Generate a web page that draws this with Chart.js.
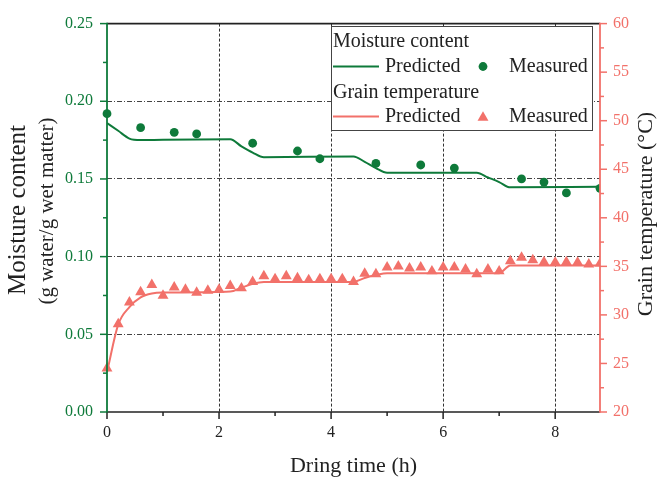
<!DOCTYPE html>
<html><head><meta charset="utf-8">
<script src="https://cdn.jsdelivr.net/npm/chart.js@4"></script>
<style>html,body{margin:0;padding:0;background:#fff}canvas{display:block}</style>
</head><body>
<canvas id="c" width="658" height="483"></canvas>
<script>
// ---- data ----
const moistPredTime = [0, 0.2, 0.4, 0.6, 1.0, 2.2, 2.4, 2.6, 2.8, 4.4, 4.6, 4.8, 5.0, 6.6, 6.8, 7.0, 7.2, 8.8];
const moistPred     = [0.186, 0.181, 0.176, 0.175, 0.1752, 0.1755, 0.171, 0.167, 0.164, 0.1645, 0.161, 0.157, 0.154, 0.154, 0.151, 0.148, 0.1446, 0.145];
const moistMeasTime = [0, 0.6, 1.2, 1.6, 2.6, 3.4, 3.8, 4.8, 5.6, 6.2, 7.4, 7.8, 8.2, 8.8];
const moistMeas     = [0.192, 0.183, 0.180, 0.179, 0.173, 0.168, 0.163, 0.160, 0.159, 0.157, 0.150, 0.148, 0.141, 0.144];
const tempPredTime  = [0, 0.2, 0.4, 0.6, 0.8, 1.0, 2.2, 2.4, 2.6, 2.8, 4.4, 4.6, 4.8, 5.0, 7.0, 7.2, 8.8];
const tempPred      = [24.1, 29.0, 30.8, 31.8, 32.2, 32.3, 32.4, 32.8, 33.2, 33.4, 33.4, 33.8, 34.1, 34.3, 34.3, 35.1, 35.1];
const tempMeasTime  = [0, 0.2, 0.4, 0.6, 0.8, 1.0, 1.2, 1.4, 1.6, 1.8, 2.0, 2.2, 2.4, 2.6, 2.8, 3.0, 3.2, 3.4, 3.6, 3.8, 4.0, 4.2, 4.4, 4.6, 4.8, 5.0, 5.2, 5.4, 5.6, 5.8, 6.0, 6.2, 6.4, 6.6, 6.8, 7.0, 7.2, 7.4, 7.6, 7.8, 8.0, 8.2, 8.4, 8.6, 8.8];
const tempMeas      = [24.5, 29.05, 31.3, 32.35, 33.1, 32.0, 32.85, 32.6, 32.3, 32.5, 32.6, 33.0, 32.75, 33.4, 34.0, 33.7, 34.0, 33.8, 33.6, 33.7, 33.7, 33.7, 33.4, 34.25, 34.2, 34.9, 35.0, 34.8, 34.9, 34.5, 34.9, 34.9, 34.7, 34.2, 34.7, 34.5, 35.55, 35.9, 35.65, 35.45, 35.4, 35.45, 35.4, 35.2, 35.3];
const xTicksMajor = [0, 2, 4, 6, 8];
const xTicksMinor = [1, 3, 5, 7];
const xTitle = 'Dring time (h)';
const yTitle = ['Moisture content', '(g water/g wet matter)'];
const y1Title = 'Grain temperature (°C)';
const legendGroups = ['Moisture content', 'Grain temperature'];
const legendItems = ['Predicted', 'Measured'];

// ---- style ----
const GREEN = '#0e7a3a';
const RED = '#f2716a';
const FONT = '"Liberation Serif", "Times New Roman", serif';
const TRI_R = 6.3;
const DOT_R = 4.4;
const pts = (xs, ys) => xs.map((x, i) => ({x, y: ys[i]}));

const decor = {
  id: 'decor',
  afterDraw(chart) {
    const {ctx, chartArea: a, scales} = chart;
    const xs = scales.x, ys = scales.y, y1 = scales.y1;
    ctx.save();
    const line = (x1, y1_, x2, y2, c, w) => {
      ctx.beginPath(); ctx.strokeStyle = c; ctx.lineWidth = w; ctx.setLineDash([]);
      ctx.moveTo(x1, y1_); ctx.lineTo(x2, y2); ctx.stroke();
    };
    // ticks
    for (let i = 0; i <= 10; i++) {
      const v = i * 0.025;
      const p = ys.getPixelForValue(v);
      line(a.left - (i % 2 === 0 ? 7 : 4), p, a.left, p, GREEN, 1.5);
    }
    for (let i = 0; i <= 16; i++) {
      const v = 20 + i * 2.5;
      const p = y1.getPixelForValue(v);
      line(a.right, p, a.right + (i % 2 === 0 ? 7 : 4), p, RED, 1.5);
    }
    xTicksMajor.forEach(v => { const p = xs.getPixelForValue(v); line(p, a.bottom, p, a.bottom + 7, '#222', 1.5); });
    xTicksMinor.forEach(v => { const p = xs.getPixelForValue(v); line(p, a.bottom, p, a.bottom + 4, '#222', 1.5); });
    // frame
    line(a.left, a.top, a.right, a.top, '#222', 1.6);
    line(a.left, a.bottom, a.right, a.bottom, '#222', 1.6);
    line(a.left, a.top - 0.8, a.left, a.bottom + 0.8, GREEN, 1.8);
    line(a.right, a.top - 0.8, a.right, a.bottom + 0.8, RED, 1.8);
    // titles
    ctx.fillStyle = '#222';
    ctx.textAlign = 'center'; ctx.textBaseline = 'middle';
    ctx.font = '22px ' + FONT;
    ctx.fillText(xTitle, (a.left + a.right) / 2, 466);
    ctx.save(); ctx.translate(646, 214); ctx.rotate(-Math.PI / 2); ctx.fillText(y1Title, 0, 0); ctx.restore();
    ctx.font = '25px ' + FONT;
    ctx.save(); ctx.translate(18, 210); ctx.rotate(-Math.PI / 2); ctx.fillText(yTitle[0], 0, 0); ctx.restore();
    ctx.font = '21px ' + FONT;
    ctx.save(); ctx.translate(47, 211); ctx.rotate(-Math.PI / 2); ctx.fillText(yTitle[1], 0, 0); ctx.restore();
    // legend
    const bx = 331, by = 26, bw = 261, bh = 104;
    ctx.fillStyle = '#fff'; ctx.fillRect(bx, by, bw, bh);
    ctx.strokeStyle = '#444'; ctx.lineWidth = 1; ctx.strokeRect(bx + 0.5, by + 0.5, bw, bh);
    ctx.font = '20px ' + FONT; ctx.textAlign = 'left'; ctx.textBaseline = 'alphabetic'; ctx.fillStyle = '#222';
    ctx.fillText(legendGroups[0], 333, 47);
    ctx.fillText(legendItems[0], 385, 72);
    ctx.fillText(legendItems[1], 509, 72);
    ctx.fillText(legendGroups[1], 333, 98);
    ctx.fillText(legendItems[0], 385, 122);
    ctx.fillText(legendItems[1], 509, 122);
    line(333, 66.5, 379, 66.5, GREEN, 2);
    line(333, 116.5, 379, 116.5, RED, 2);
    ctx.fillStyle = GREEN; ctx.beginPath(); ctx.arc(483, 66.5, DOT_R, 0, Math.PI * 2); ctx.fill();
    ctx.fillStyle = RED; ctx.beginPath();
    const r = TRI_R, cx = 483, cy = 117.5;
    ctx.moveTo(cx, cy - r); ctx.lineTo(cx + r * 0.866, cy + r / 2); ctx.lineTo(cx - r * 0.866, cy + r / 2); ctx.closePath(); ctx.fill();
    ctx.restore();
  }
};

new Chart(document.getElementById('c'), {
  type: 'line',
  data: {
    datasets: [
      {data: pts(moistPredTime, moistPred), yAxisID: 'y', borderColor: GREEN, borderWidth: 2, pointRadius: 0, cubicInterpolationMode: 'monotone', fill: false},
      {data: pts(moistMeasTime, moistMeas), yAxisID: 'y', showLine: false, pointStyle: 'circle', pointRadius: DOT_R, backgroundColor: GREEN, borderColor: GREEN, borderWidth: 0, clip: {left: 8, top: 8, right: 0, bottom: 8}},
      {data: pts(tempPredTime, tempPred), yAxisID: 'y1', borderColor: RED, borderWidth: 2, pointRadius: 0, cubicInterpolationMode: 'monotone', fill: false},
      {data: pts(tempMeasTime, tempMeas), yAxisID: 'y1', showLine: false, pointStyle: 'triangle', pointRadius: TRI_R, backgroundColor: RED, borderColor: RED, borderWidth: 0, clip: {left: 8, top: 8, right: 0, bottom: 8}}
    ]
  },
  options: {
    responsive: false, animation: false, devicePixelRatio: 1,
    layout: {padding: {top: 16, left: 0, right: 0, bottom: 0}},
    plugins: {legend: {display: false}, tooltip: {enabled: false}, title: {display: false}},
    scales: {
      x: {
        type: 'linear', position: 'bottom', min: 0, max: 8.8,
        afterFit: s => { s.height = 71; },
        ticks: {stepSize: 2, includeBounds: false, padding: 11, maxRotation: 0, color: '#222', font: {family: FONT, size: 16}},
        grid: {drawTicks: false, lineWidth: 1, color: c => (c.tick && c.tick.value > 0.01) ? '#333' : 'rgba(0,0,0,0)'},
        border: {display: false, dash: [3, 2]}
      },
      y: {
        type: 'linear', position: 'left', min: 0, max: 0.25,
        afterFit: s => { s.width = 107; },
        ticks: {stepSize: 0.05, padding: 14, color: GREEN, font: {family: FONT, size: 16}, callback: v => Number(v).toFixed(2)},
        grid: {drawTicks: false, lineWidth: 1, color: c => (c.tick && c.tick.value > 0.01 && c.tick.value < 0.24) ? '#444' : 'rgba(0,0,0,0)'},
        border: {display: false, dash: [5, 2, 1, 2]}
      },
      y1: {
        type: 'linear', position: 'right', min: 20, max: 60,
        afterFit: s => { s.width = 58; },
        ticks: {stepSize: 5, padding: 13, color: RED, font: {family: FONT, size: 16}},
        grid: {display: false, drawTicks: false},
        border: {display: false}
      }
    }
  },
  plugins: [decor]
});
</script>
</body></html>
